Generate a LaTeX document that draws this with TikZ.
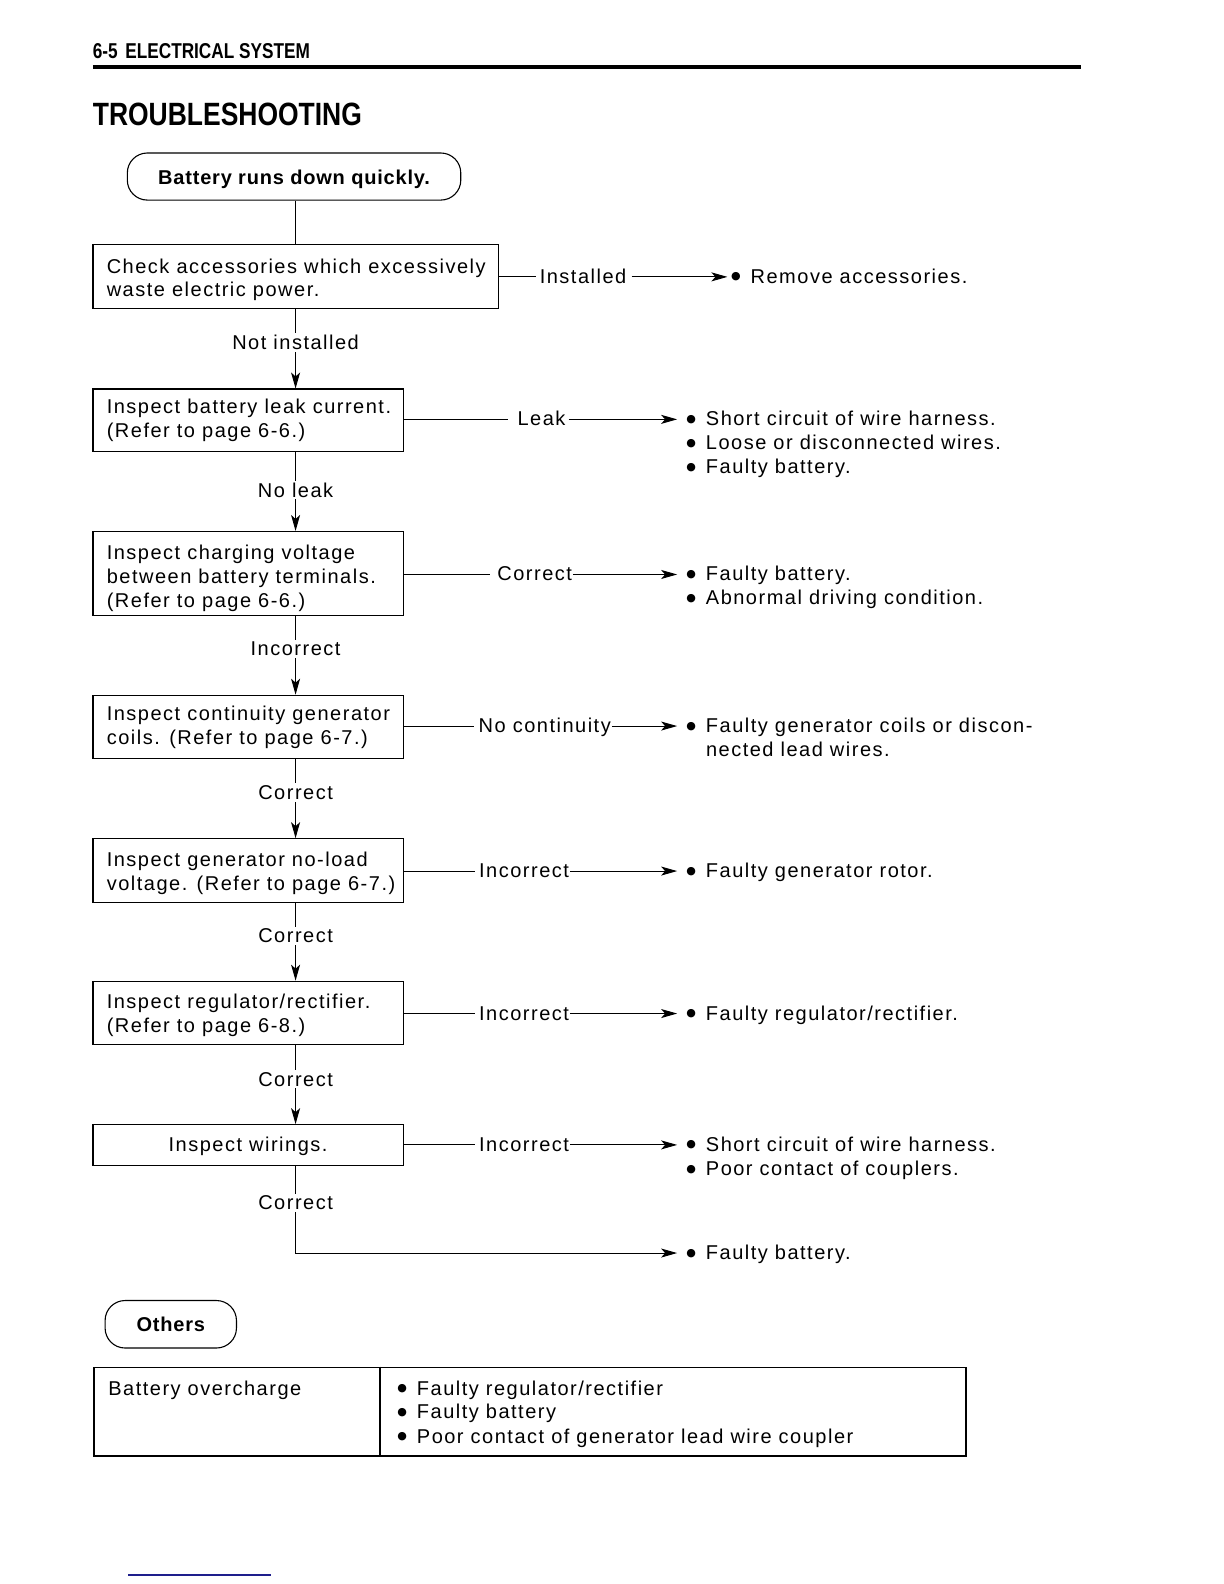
\documentclass[tikz,border=0pt]{standalone}
\usepackage{fontspec}
\usepackage{graphicx}
\setmainfont{Liberation Sans}
\newfontfamily\bodyf{Liberation Sans}[LetterSpace=7.5]
\newfontfamily\boldf{Liberation Sans Bold}[LetterSpace=4]
\newfontfamily\hdrf{Liberation Sans}
\newfontfamily\dotf{DejaVu Sans}
\usetikzlibrary{arrows.meta,fit}
\definecolor{navyline}{RGB}{30,30,140}
\newcommand\bl{\makebox[19.6pt][l]{\raisebox{3.4pt}{\dotf\fontsize{11}{11}\selectfont ●}}}
\tikzset{
  flowbox/.style={draw, line width=1.1pt, inner sep=0pt, fit={#1}},
  rbox/.style={draw, line width=1.1pt, rounded corners=20pt, inner sep=0pt, fit={#1}},
  tx/.style={inner sep=0pt, anchor=base west, font=\bodyf\fontsize{20}{24}\selectfont},
  ctx/.style={inner sep=0pt, anchor=base, font=\bodyf\fontsize{20}{24}\selectfont},
  btx/.style={inner sep=0pt, anchor=base, font=\boldf\fontsize{20}{24}\selectfont},
  vl/.style={inner xsep=1pt, inner ysep=2pt, fill=white, anchor=base, font=\bodyf\fontsize{20}{24}\selectfont},
  conn/.style={line width=1pt},
  arr/.style={conn, -{Stealth[length=16pt, width=9pt, inset=4pt]}},
}
\begin{document}
\begin{tikzpicture}[x=1.0105pt,y=-1.0105pt]
\useasboundingbox (0,0) rectangle (1211.28,1567.54);

% header
\node[inner sep=0pt, anchor=base west] (hdr) at (91.7,57.4) {\resizebox{217pt}{15pt}{\hdrf\bfseries 6-5\, ELECTRICAL SYSTEM}};
\coordinate (ruleL) at (92,66.3);
\coordinate (ruleR) at (1070,66.3);
\draw[line width=4pt] (ruleL) -- (ruleR);
\node[inner sep=0pt, anchor=base west] (title) at (91.7,124.5) {\resizebox{269pt}{22.5pt}{\hdrf\bfseries TROUBLESHOOTING}};

% spine
\coordinate (sp) at (292.5,0);

% start
\node[rbox={(126,151.4)(456,198)}] (top) {};
\node[btx] (toptxt) at (291,183) {Battery runs down quickly.};

% boxes
\node[flowbox={(92,242)(493,305)}] (b1) {};
\node[tx] (t1a) at (105.5,270.2) {Check accessories which excessively};
\node[tx] (t1b) at (105.5,293.9) {waste electric power.};

\node[flowbox={(92,385)(399,447)}] (b2) {};
\node[tx] (t2a) at (105.5,409.5) {Inspect battery leak current.};
\node[tx] (t2b) at (105.5,433.3) {(Refer to page 6-6.)};

\node[flowbox={(92,526)(399,609)}] (b3) {};
\node[tx] (t3a) at (105.5,554) {Inspect charging voltage};
\node[tx] (t3b) at (105.5,577.8) {between battery terminals.};
\node[tx] (t3c) at (105.5,601.5) {(Refer to page 6-6.)};

\node[flowbox={(92,688)(399,751)}] (b4) {};
\node[tx] (t4a) at (105.5,713) {Inspect continuity generator};
\node[tx] (t4b) at (105.5,736.8) {coils. (Refer to page 6-7.)};

\node[flowbox={(92,830)(399,893)}] (b5) {};
\node[tx] (t5a) at (105.5,857) {Inspect generator no-load};
\node[tx] (t5b) at (105.5,880.8) {voltage. (Refer to page 6-7.)};

\node[flowbox={(92,971)(399,1034)}] (b6) {};
\node[tx] (t6a) at (105.5,998) {Inspect regulator/rectifier.};
\node[tx] (t6b) at (105.5,1021.8) {(Refer to page 6-8.)};

\node[flowbox={(92,1113)(399,1153)}] (b7) {};
\node[ctx] (t7a) at (245.5,1140) {Inspect wirings.};

% vertical connectors
\draw[conn] (top.south -| sp) -- (b1.north -| sp);
\draw[arr] (b1.south -| sp) -- (b2.north -| sp);
\draw[arr] (b2.south -| sp) -- (b3.north -| sp);
\draw[arr] (b3.south -| sp) -- (b4.north -| sp);
\draw[arr] (b4.south -| sp) -- (b5.north -| sp);
\draw[arr] (b5.south -| sp) -- (b6.north -| sp);
\draw[arr] (b6.south -| sp) -- (b7.north -| sp);
\node[vl] (v1) at (292.5,346) {Not installed};
\node[vl] (v2) at (292.5,492) {No leak};
\node[vl] (v3) at (292.5,649) {Incorrect};
\node[vl] (v4) at (292.5,791) {Correct};
\node[vl] (v5) at (292.5,933) {Correct};
\node[vl] (v6) at (292.5,1075) {Correct};

% row 1
\coordinate (y1) at (0,274);
\node[tx] (l1) at (534,280.4) {Installed};
\node[tx] (r1) at (723.3,280.4) {\bl Remove accessories.};
\draw[conn] (b1.east |- y1) -- ([xshift=-4pt]l1.west |- y1);
\draw[arr] ([xshift=5pt]l1.east |- y1) -- ([xshift=-3.5pt]r1.west |- y1);

% row 2
\coordinate (y2) at (0,415);
\node[tx] (l2) at (512,421.4) {Leak};
\node[tx] (r2a) at (679,421.4) {\bl Short circuit of wire harness.};
\node[tx] (r2b) at (679,445.2) {\bl Loose or disconnected wires.};
\node[tx] (r2c) at (679,468.9) {\bl Faulty battery.};
\draw[conn] (b2.east |- y2) -- ([xshift=-9pt]l2.west |- y2);
\draw[arr] ([xshift=3pt]l2.east |- y2) -- ([xshift=-9pt]r2a.west |- y2);

% row 3
\coordinate (y3) at (0,568.5);
\node[tx] (l3) at (492,574.9) {Correct};
\node[tx] (r3a) at (679,574.9) {\bl Faulty battery.};
\node[tx] (r3b) at (679,598.7) {\bl Abnormal driving condition.};
\draw[conn] (b3.east |- y3) -- ([xshift=-7pt]l3.west |- y3);
\draw[arr] ([xshift=1pt]l3.east |- y3) -- ([xshift=-9pt]r3a.west |- y3);

% row 4
\coordinate (y4) at (0,718.5);
\node[tx] (l4) at (473.5,724.9) {No continuity};
\node[tx] (r4a) at (679,724.9) {\bl Faulty generator coils or discon-};
\node[tx] (r4b) at (698.5,748.7) {nected lead wires.};
\draw[conn] (b4.east |- y4) -- ([xshift=-4pt]l4.west |- y4);
\draw[arr] ([xshift=1pt]l4.east |- y4) -- ([xshift=-9pt]r4a.west |- y4);

% row 5
\coordinate (y5) at (0,862);
\node[tx] (l5) at (474,868.4) {Incorrect};
\node[tx] (r5a) at (679,868.4) {\bl Faulty generator rotor.};
\draw[conn] (b5.east |- y5) -- ([xshift=-4pt]l5.west |- y5);
\draw[arr] ([xshift=1pt]l5.east |- y5) -- ([xshift=-9pt]r5a.west |- y5);

% row 6
\coordinate (y6) at (0,1003);
\node[tx] (l6) at (474,1009.4) {Incorrect};
\node[tx] (r6a) at (679,1009.4) {\bl Faulty regulator/rectifier.};
\draw[conn] (b6.east |- y6) -- ([xshift=-4pt]l6.west |- y6);
\draw[arr] ([xshift=1pt]l6.east |- y6) -- ([xshift=-9pt]r6a.west |- y6);

% row 7
\coordinate (y7) at (0,1133);
\node[tx] (l7) at (474,1139.4) {Incorrect};
\node[tx] (r7a) at (679,1139.4) {\bl Short circuit of wire harness.};
\node[tx] (r7b) at (679,1163.2) {\bl Poor contact of couplers.};
\draw[conn] (b7.east |- y7) -- ([xshift=-4pt]l7.west |- y7);
\draw[arr] ([xshift=1pt]l7.east |- y7) -- ([xshift=-9pt]r7a.west |- y7);

% final
\coordinate (y8) at (0,1240);
\node[tx] (r8a) at (679,1246.4) {\bl Faulty battery.};
\draw[arr] (b7.south -| sp) -- (y8 -| sp) -- ([xshift=-9pt]r8a.west |- y8);
\node[vl] (v7) at (292.5,1197) {Correct};

% others
\node[rbox={(104,1287)(234,1334)}] (oth) {};
\node[btx] (othtxt) at (169,1318) {Others};

% table
\coordinate (div) at (376,0);
\node[flowbox={(93,1353)(956,1441)}, line width=1.4pt] (tbl) {};
\draw[line width=1.1pt] (tbl.north -| div) -- (tbl.south -| div);
\node[tx] (tl) at (107,1380.5) {Battery overcharge};
\node[tx] (tr1) at (393,1380.5) {\bl Faulty regulator/rectifier};
\node[tx] (tr2) at (393,1404.2) {\bl Faulty battery};
\node[tx] (tr3) at (393,1428) {\bl Poor contact of generator lead wire coupler};

% blue line
\coordinate (bl1) at (127,1558.6);
\coordinate (bl2) at (268,1558.6);
\draw[navyline, line width=2pt] (bl1) -- (bl2);
\end{tikzpicture}
\end{document}
